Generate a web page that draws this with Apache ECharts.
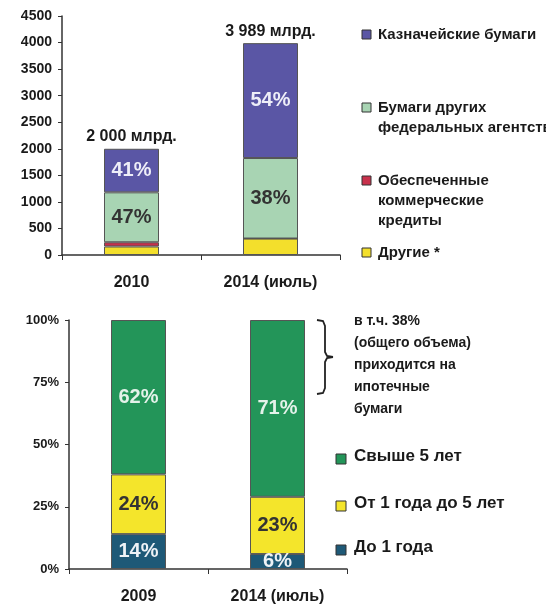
<!DOCTYPE html>
<html>
<head>
<meta charset="utf-8">
<script src="https://cdn.jsdelivr.net/npm/echarts/dist/echarts.min.js"></script>
<style>
  html, body { margin: 0; padding: 0; background: #fff; }
  #main { width: 546px; height: 607px; }
</style>
</head>
<body>
<div id="main"></div>
<script>
// верхний график: объем, млрд.
var topCats = ['2010', '2014 (июль)'];
var otherVals = [160, 310];
var securedVals = [80, 0];
var agencyVals = [940, 1516];
var treasuryVals = [820, 2163];
var agencyPct = ['47%', '38%'];
var treasuryPct = ['41%', '54%'];
var totals = [2000, 3989];
var totalLabels = ['2 000 млрд.', '3 989 млрд.'];
var topNames = ['Казначейские бумаги', 'Бумаги других\nфедеральных агентств', 'Обеспеченные\nкоммерческие\nкредиты', 'Другие *'];

// нижний график: структура по срокам, %
var bottomCats = ['2009', '2014 (июль)'];
var shortVals = [14, 6];
var midVals = [24, 23];
var longVals = [62, 71];
var bottomNames = ['Свыше 5 лет', 'От 1 года до 5 лет', 'До 1 года'];
var noteLines = ['в т.ч. 38%', '(общего объема)', 'приходится на', 'ипотечные', 'бумаги'];

var FONT = 'Liberation Sans';
var AX = '#333';
var TXT = '#1a1a1a';

var topColors = ['#5a56a5', '#a8d4b3', '#c8314c', '#f3df2c'];
var bottomColors = ['#239559', '#f4e52b', '#1e5977'];

function barSeries(name, data, color, xi, labelColor, labelFn) {
  return {
    name: name,
    type: 'bar',
    stack: 's' + xi,
    xAxisIndex: xi,
    yAxisIndex: xi,
    barWidth: 55,
    data: data,
    itemStyle: { color: color, borderColor: '#555', borderWidth: 1 },
    label: labelFn ? {
      show: true,
      position: 'inside',
      color: labelColor,
      fontFamily: FONT,
      fontWeight: 'bold',
      fontSize: 20,
      formatter: labelFn
    } : { show: false }
  };
}

var chart = echarts.init(document.getElementById('main'));

var graphics = [];
// легенда сверху
var topLegendY = [35, 108, 181, 253];
topNames.forEach(function (n, i) {
  graphics.push({ type: 'rect', shape: { x: 362, y: topLegendY[i] - 5, width: 9, height: 9 },
    style: { fill: topColors[i], stroke: '#333', lineWidth: 1 } });
  graphics.push({ type: 'text', x: 378, y: topLegendY[i] - 10,
    style: { text: n, font: 'bold 15px ' + FONT, fill: TXT, lineHeight: 20 } });
});
// легенда снизу
var bottomLegendY = [459, 506, 550];
bottomNames.forEach(function (n, i) {
  graphics.push({ type: 'rect', shape: { x: 336, y: bottomLegendY[i] - 5, width: 10, height: 10 },
    style: { fill: bottomColors[i], stroke: '#333', lineWidth: 1 } });
  graphics.push({ type: 'text', x: 354, y: bottomLegendY[i] - 11,
    style: { text: n, font: 'bold 17px ' + FONT, fill: TXT } });
});
// скобка и пояснение
graphics.push({ type: 'polyline', shape: {
    points: [[317, 320], [323, 321], [325, 326], [325, 352], [327, 356], [333, 357]]
  }, style: { fill: null, stroke: '#222', lineWidth: 1.8 } });
graphics.push({ type: 'polyline', shape: {
    points: [[333, 357], [327, 358], [325, 362], [325, 388], [323, 393], [317, 394]]
  }, style: { fill: null, stroke: '#222', lineWidth: 1.8 } });
graphics.push({ type: 'text', x: 354, y: 310,
  style: { text: noteLines.join('\n'), font: 'bold 14px ' + FONT, fill: TXT, lineHeight: 22 } });

var option = {
  backgroundColor: '#fff',
  animation: false,
  grid: [
    { left: 62, top: 16, width: 278, height: 239 },
    { left: 69, top: 320, width: 278, height: 249 }
  ],
  xAxis: [
    { type: 'category', gridIndex: 0, data: topCats,
      axisLine: { lineStyle: { color: AX, width: 1.5 } },
      axisTick: { show: true, length: 5, lineStyle: { color: AX } },
      axisLabel: { margin: 20, color: TXT, fontFamily: FONT, fontWeight: 'bold', fontSize: 16 } },
    { type: 'category', gridIndex: 1, data: bottomCats,
      axisLine: { lineStyle: { color: AX, width: 1.5 } },
      axisTick: { show: true, length: 5, lineStyle: { color: AX } },
      axisLabel: { margin: 20, color: TXT, fontFamily: FONT, fontWeight: 'bold', fontSize: 16 } }
  ],
  yAxis: [
    { type: 'value', gridIndex: 0, min: 0, max: 4500, interval: 500,
      axisLine: { show: true, lineStyle: { color: AX, width: 1.5 } },
      axisTick: { show: true, length: 4, lineStyle: { color: AX } },
      splitLine: { show: false },
      axisLabel: { margin: 10, color: TXT, fontFamily: FONT, fontWeight: 'bold', fontSize: 14,
        formatter: function (v) { return String(v); } } },
    { type: 'value', gridIndex: 1, min: 0, max: 100, interval: 25,
      axisLine: { show: true, lineStyle: { color: AX, width: 1.5 } },
      axisTick: { show: true, length: 4, lineStyle: { color: AX } },
      splitLine: { show: false },
      axisLabel: { margin: 10, color: TXT, fontFamily: FONT, fontWeight: 'bold', fontSize: 13, formatter: '{value}%' } }
  ],
  series: [
    barSeries(topNames[3], otherVals, topColors[3], 0),
    barSeries(topNames[2], securedVals, topColors[2], 0),
    barSeries(topNames[1], agencyVals, topColors[1], 0, '#333', function (p) { return agencyPct[p.dataIndex]; }),
    barSeries(topNames[0], treasuryVals, topColors[0], 0, '#eeeef8', function (p) { return treasuryPct[p.dataIndex]; }),
    {
      type: 'scatter', xAxisIndex: 0, yAxisIndex: 0,
      data: totals.map(function (v, i) { return [i, v]; }),
      symbolSize: 0,
      itemStyle: { color: '#fff', opacity: 1 },
      label: { show: true, position: 'top', distance: 4, color: TXT, fontFamily: FONT,
        fontWeight: 'bold', fontSize: 16, formatter: function (p) { return totalLabels[p.dataIndex]; } }
    },
    barSeries(bottomNames[2], shortVals, bottomColors[2], 1, '#eef2f6', function (p) { return p.value + '%'; }),
    barSeries(bottomNames[1], midVals, bottomColors[1], 1, '#333', function (p) { return p.value + '%'; }),
    barSeries(bottomNames[0], longVals, bottomColors[0], 1, '#e4f2ea', function (p) { return p.value + '%'; })
  ],
  graphic: graphics
};

chart.setOption(option);
</script>
</body>
</html>
